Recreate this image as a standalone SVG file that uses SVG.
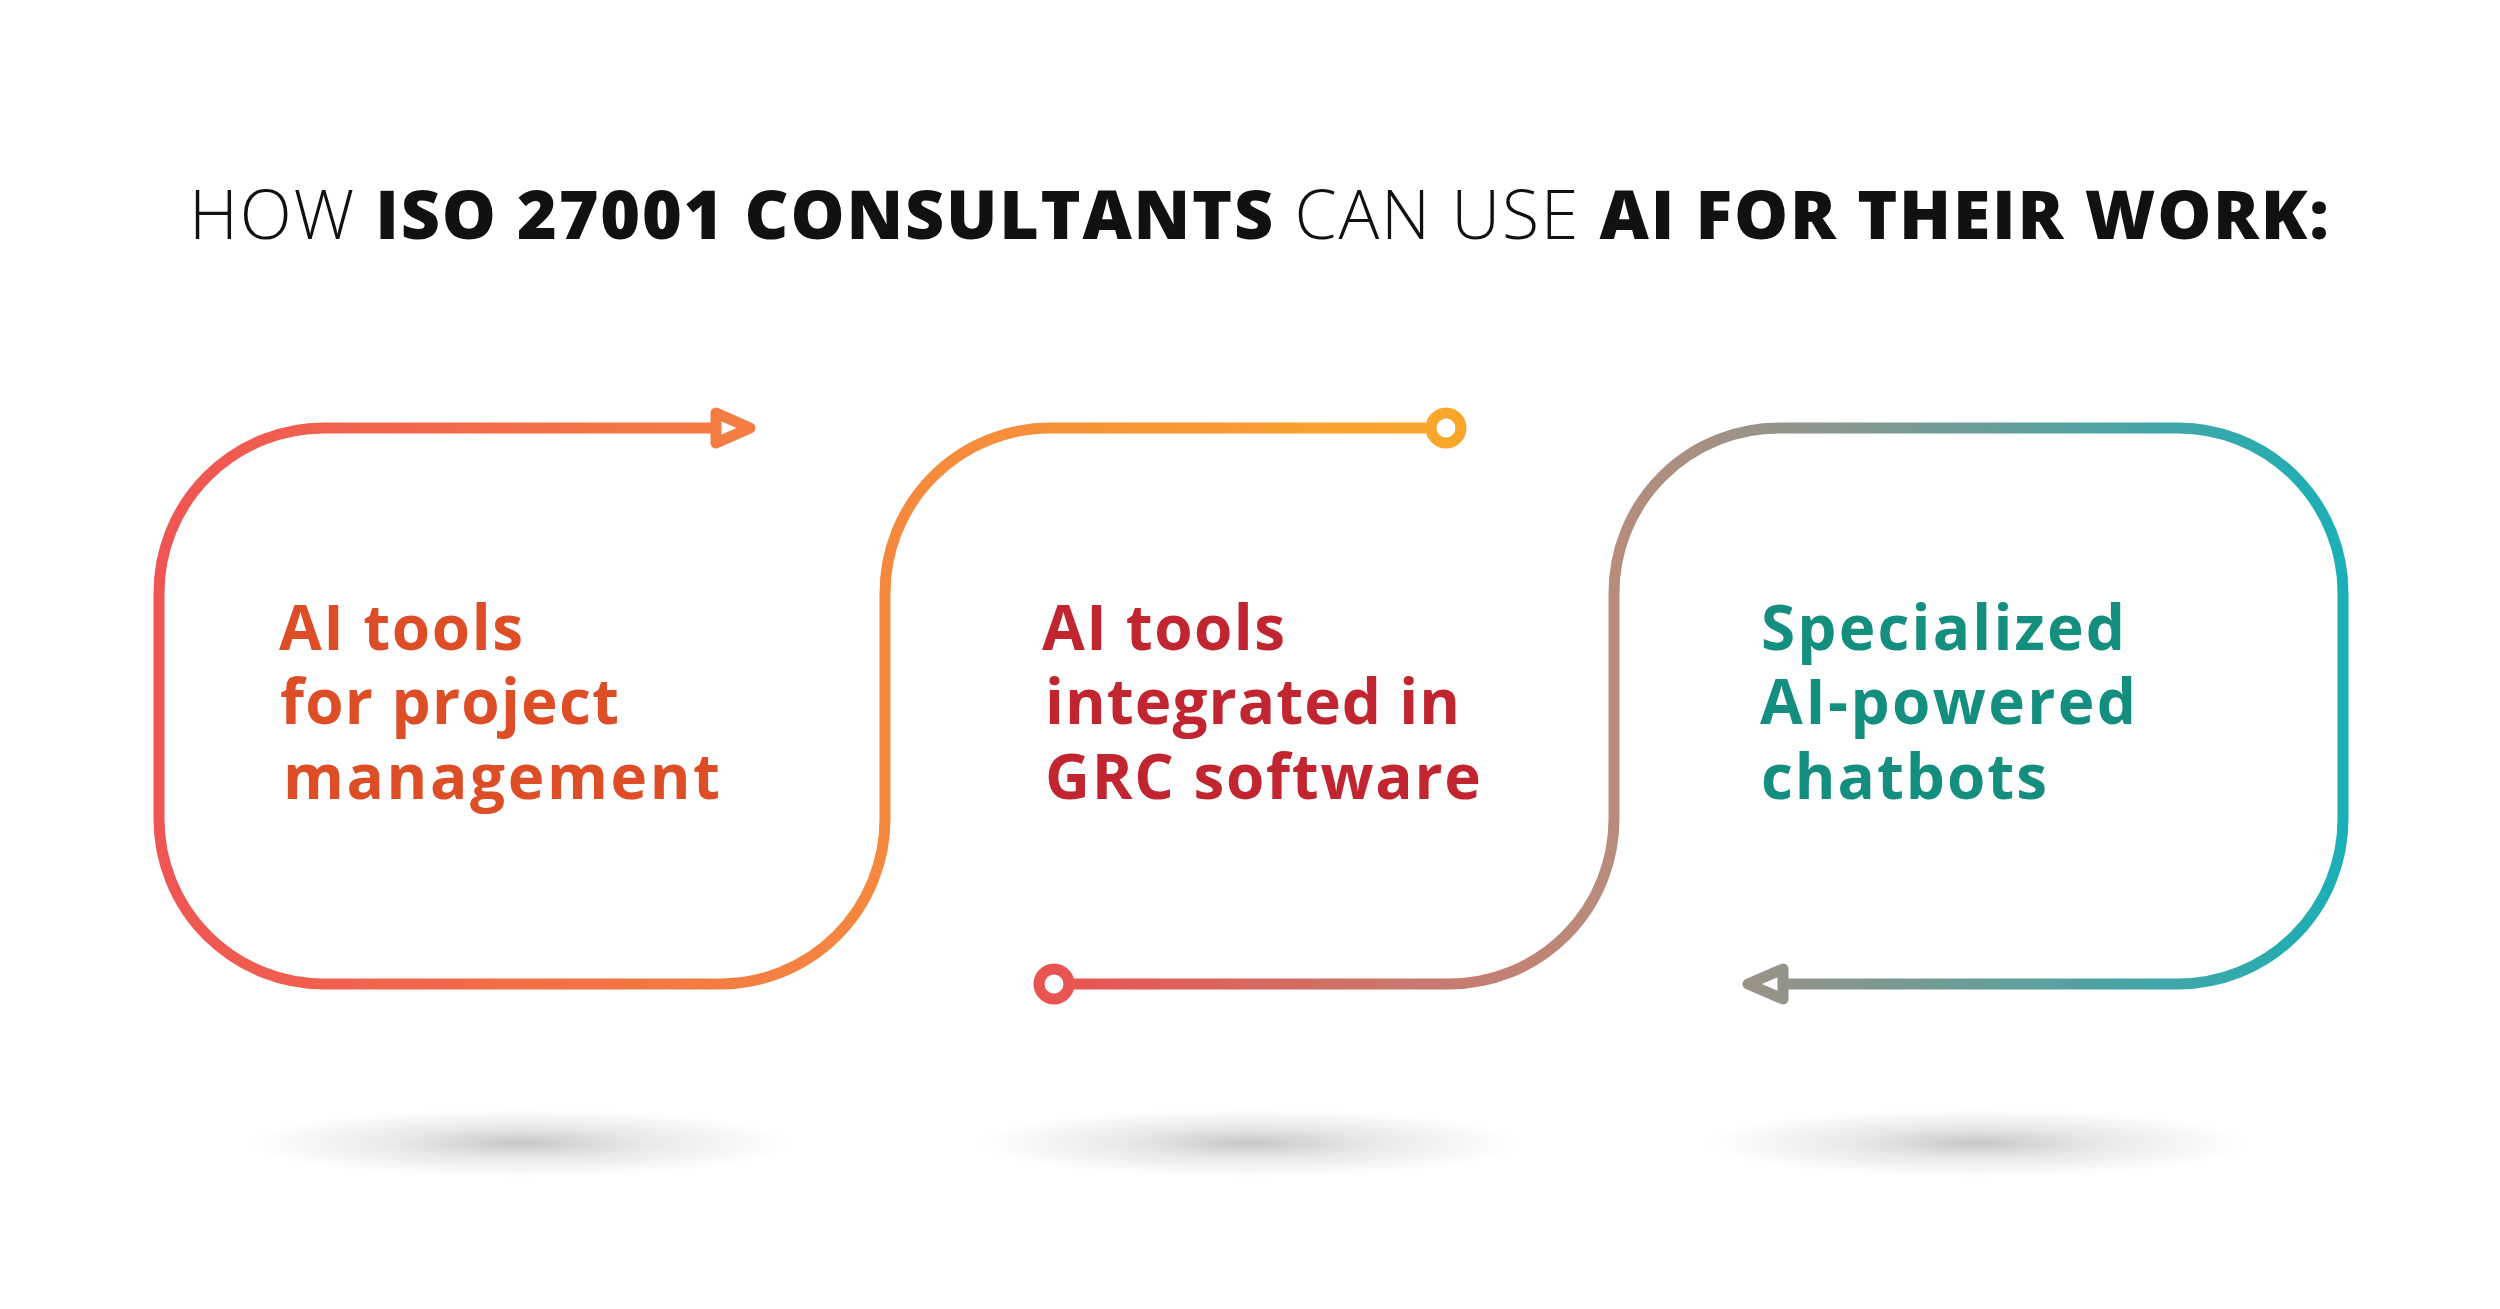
<svg xmlns="http://www.w3.org/2000/svg" width="2500" height="1309" viewBox="0 0 2500 1309">
  <defs>
    <linearGradient id="g1" gradientUnits="userSpaceOnUse" x1="159" y1="0" x2="1446" y2="0">
      <stop offset="0" stop-color="#EF5552"/>
      <stop offset="0.564" stop-color="#F5883E"/>
      <stop offset="1" stop-color="#F9A72B"/>
    </linearGradient>
    <linearGradient id="g2" gradientUnits="userSpaceOnUse" x1="1054" y1="0" x2="2343" y2="0">
      <stop offset="0" stop-color="#EA5450"/>
      <stop offset="0.434" stop-color="#B88C7C"/>
      <stop offset="1" stop-color="#1AAFB6"/>
    </linearGradient>
    <radialGradient id="sh" cx="0.5" cy="0.5" r="0.5">
      <stop offset="0" stop-color="#000" stop-opacity="0.22"/>
      <stop offset="0.45" stop-color="#000" stop-opacity="0.09"/>
      <stop offset="1" stop-color="#000" stop-opacity="0"/>
    </radialGradient>
  </defs>
  <style>
    .title { font-family: "Open Sans", "Liberation Sans", sans-serif; font-size: 68px; fill: #111; }
    .lt { font-weight: 300; }
    .bd { font-weight: 800; }
    .lbl { font-family: "Open Sans", "Liberation Sans", sans-serif; font-size: 62px; font-weight: 700; }
    .l1 { fill: #DD4D26; }
    .l2 { fill: #C1252F; }
    .l3 { fill: #148E7E; }
    .ln { fill: none; stroke-width: 11; stroke-linecap: round; stroke-linejoin: round; }
    .end { fill: #fff; stroke-width: 11; stroke-linejoin: round; }
  </style>
  <rect width="2500" height="1309" fill="#fff"/>

  <text class="title" x="189" y="239" textLength="2140" lengthAdjust="spacing"><tspan class="lt">HOW </tspan><tspan class="bd">ISO 27001 CONSULTANTS </tspan><tspan class="lt">CAN USE </tspan><tspan class="bd">AI FOR THEIR WORK:</tspan></text>

  <g id="shadows">
    <ellipse cx="520" cy="1143" rx="270" ry="34" fill="url(#sh)"/>
    <ellipse cx="1249" cy="1143" rx="270" ry="34" fill="url(#sh)"/>
    <ellipse cx="1977" cy="1143" rx="270" ry="34" fill="url(#sh)"/>
  </g>

  <g id="connectors">
    <path class="ln" stroke="url(#g1)" d="M 716 428 H 324 A 165 165 0 0 0 159 593 V 819 A 165 165 0 0 0 324 984 H 720 A 165 165 0 0 0 885 819 V 593 A 165 165 0 0 1 1050 428 H 1431"/>
    <polygon class="end" stroke="url(#g1)" points="716,413 750,428 716,443"/>
    <circle class="end" stroke="url(#g1)" cx="1446" cy="428" r="15"/>
    <path class="ln" stroke="url(#g2)" d="M 1069 984 H 1449 A 165 165 0 0 0 1614 819 V 593 A 165 165 0 0 1 1779 428 H 2178 A 165 165 0 0 1 2343 593 V 819 A 165 165 0 0 1 2178 984 H 1783"/>
    <polygon class="end" stroke="url(#g2)" points="1783,969 1748,984 1783,999"/>
    <circle class="end" stroke="url(#g2)" cx="1054" cy="984" r="15"/>
  </g>

  <g id="node1">
    <text class="lbl l1"><tspan x="279" y="650" textLength="244" lengthAdjust="spacing">AI tools</tspan><tspan x="280" y="724" textLength="339" lengthAdjust="spacing">for project</tspan><tspan x="283" y="799" textLength="437" lengthAdjust="spacing">management</tspan></text>
  </g>
  <g id="node2">
    <text class="lbl l2"><tspan x="1042" y="650" textLength="243" lengthAdjust="spacing">AI tools</tspan><tspan x="1045" y="724" textLength="415" lengthAdjust="spacing">integrated in</tspan><tspan x="1045" y="799" textLength="436" lengthAdjust="spacing">GRC software</tspan></text>
  </g>
  <g id="node3">
    <text class="lbl l3"><tspan x="1761" y="650" textLength="364" lengthAdjust="spacing">Specialized</tspan><tspan x="1760" y="724" textLength="376" lengthAdjust="spacing">AI-powered</tspan><tspan x="1761" y="799" textLength="286" lengthAdjust="spacing">chatbots</tspan></text>
  </g>
</svg>
